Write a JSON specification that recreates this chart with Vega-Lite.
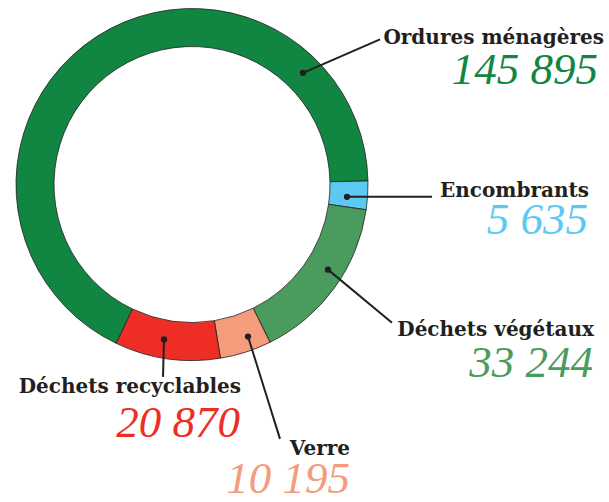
{
  "$schema": "https://vega.github.io/schema/vega-lite/v6.json",
  "width": 609,
  "height": 502,
  "autosize": {"type": "fit", "contains": "padding"},
  "padding": 0,
  "background": "white",
  "config": {
    "view": {"stroke": null},
    "locale": {"number": {"decimal": ",", "thousands": " ", "grouping": [3], "currency": ["", " €"]}}
  },
  "data": {
    "values": [
      {"cat": "Ordures ménagères", "ord": 1, "value": 145895, "px": 303, "py": 74, "ex": 380, "ey": 40, "lx": 604, "ly": 45, "nx": 598, "ny": 85},
      {"cat": "Encombrants", "ord": 2, "value": 5635, "px": 347, "py": 200, "ex": 432, "ey": 200, "lx": 589, "ly": 200, "nx": 588, "ny": 238},
      {"cat": "Déchets végétaux", "ord": 3, "value": 33244, "px": 328, "py": 274, "ex": 392, "ey": 328, "lx": 594, "ly": 341, "nx": 593, "ny": 383},
      {"cat": "Verre", "ord": 4, "value": 10195, "px": 248, "py": 342, "ex": 280, "ey": 446, "lx": 350, "ly": 462, "nx": 350, "ny": 501},
      {"cat": "Déchets recyclables", "ord": 5, "value": 20870, "px": 164, "py": 345, "ex": 163, "ey": 383, "lx": 241, "ly": 399, "nx": 240, "ny": 444}
    ]
  },
  "layer": [
    {
      "mark": {"type": "arc", "outerRadius": 176, "innerRadius": 138, "stroke": "#231f20", "strokeWidth": 0.8},
      "encoding": {
        "x": {"datum": 192, "type": "quantitative", "scale": {"domain": [0, 609], "nice": false, "zero": false}, "axis": null},
        "y": {"datum": 187.5, "type": "quantitative", "scale": {"domain": [0, 502], "nice": false, "zero": false, "reverse": true}, "axis": null},
        "theta": {"field": "value", "type": "quantitative", "stack": true, "scale": {"range": [3.587, 9.870]}},
        "order": {"field": "ord", "type": "quantitative"},
        "color": {
          "field": "cat", "type": "nominal", "legend": null,
          "scale": {
            "domain": ["Ordures ménagères", "Encombrants", "Déchets végétaux", "Verre", "Déchets recyclables"],
            "range": ["#118542", "#5bc9f2", "#4a9b5e", "#f59c7c", "#ee2e24"]
          }
        }
      }
    },
    {
      "mark": {"type": "rule", "color": "#231f20", "strokeWidth": 2},
      "encoding": {
        "x": {"field": "px", "type": "quantitative"},
        "y": {"field": "py", "type": "quantitative"},
        "x2": {"field": "ex"},
        "y2": {"field": "ey"}
      }
    },
    {
      "mark": {"type": "point", "filled": true, "color": "#231f20", "size": 40, "opacity": 1},
      "encoding": {
        "x": {"field": "px", "type": "quantitative"},
        "y": {"field": "py", "type": "quantitative"}
      }
    },
    {
      "mark": {"type": "text", "align": "right", "baseline": "alphabetic", "font": "DejaVu Serif", "fontWeight": "bold", "fontSize": 20, "color": "#231f20"},
      "encoding": {
        "x": {"field": "lx", "type": "quantitative"},
        "y": {"field": "ly", "type": "quantitative"},
        "text": {"field": "cat"}
      }
    },
    {
      "mark": {"type": "text", "align": "right", "baseline": "alphabetic", "font": "Liberation Serif", "fontStyle": "italic", "fontSize": 45},
      "encoding": {
        "x": {"field": "nx", "type": "quantitative"},
        "y": {"field": "ny", "type": "quantitative"},
        "text": {"field": "value", "type": "quantitative", "format": ",d"},
        "color": {"field": "cat", "type": "nominal", "legend": null}
      }
    }
  ]
}
